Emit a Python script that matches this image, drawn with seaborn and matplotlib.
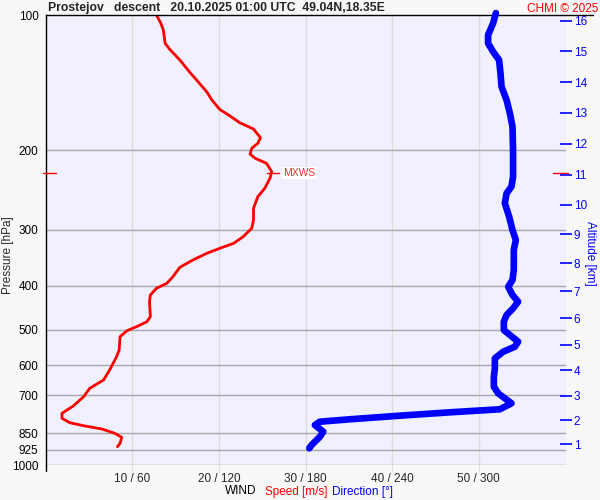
import numpy as np
import pandas as pd
import matplotlib
matplotlib.use("Agg")
import matplotlib.pyplot as plt
import seaborn as sns

# ---- data ----
speed_ms = [12.8, 13.3, 13.6, 13.8, 14.4, 15.5, 16.6, 17.6, 18.6, 19.2, 20.1, 21.3, 22.4, 24.0,
            24.8, 24.5, 23.8, 23.6, 24.2, 25.5, 26.1, 25.9, 25.3, 24.5, 24.0, 24.0, 23.8, 22.8,
            21.7, 20.1, 18.6, 17.0, 15.5, 14.7, 14.0, 12.8, 12.1, 12.0, 12.1, 11.7, 10.5, 9.4,
            8.6, 8.5, 8.2, 7.4, 6.7, 5.1, 4.4, 3.2, 1.9, 1.9, 2.8, 4.4, 6.5, 8.0, 8.8, 8.6, 8.3]
speed_p = [100, 104.3, 108, 115.6, 119.6, 125.9, 133.7, 140.7, 148.1, 154.5, 162.1, 167.7, 173.5,
           179.2, 187.4, 192.8, 197.8, 203.7, 208.2, 213.6, 222.9, 230.6, 242.7, 253.3, 268.9,
           285.4, 297.8, 311.0, 321.7, 330.0, 338.6, 350.4, 363.7, 381.6, 394.7, 404.9, 419.0,
           433.6, 468.1, 480.3, 492.8, 503.0, 518.7, 555.2, 574.6, 615.0, 647.3, 675.5, 705.1,
           739.5, 767.6, 787.5, 805.4, 818.0, 831.8, 850.4, 867.9, 895.0, 910.7]

direction_deg = [311.8, 309.9, 306.4, 306.4, 309.9, 314.0, 315.0, 315.7, 319.2, 321.5, 323.3, 323.7,
                 323.7, 322.6, 319.2, 318.0, 321.0, 323.3, 325.6, 324.2, 324.2, 323.3, 320.3,
                 323.3, 327.2, 323.7, 319.2, 317.3, 317.3, 321.5, 327.2, 324.9, 316.8, 311.1,
                 311.1, 310.4, 310.4, 313.4, 318.0, 322.6, 314.5, 280.0, 245.3, 210.6, 189.9,
                 186.5, 192.3, 190.0, 184.2, 182.6]
direction_p = [99, 104.3, 110.8, 115.6, 120.7, 125.9, 134.8, 144.3, 154.5, 165.4, 177.1, 199.5,
               228.7, 240.7, 249.0, 262.0, 280.6, 300.5, 316.2, 332.8, 368.6, 388.1, 401.6, 419.0,
               433.6, 448.6, 464.2, 480.3, 501.2, 514.2, 532.1, 546.0, 560.2, 579.5, 609.9, 636.7,
               669.9, 693.0, 710.9, 729.3, 752.0, 763.7, 777.0, 791.5, 801.3, 815.0, 843.3, 865.2,
               902.8, 918.1]

pressure_ticks = [100, 200, 300, 400, 500, 600, 700, 850, 925, 1000]
speed_ticks = [10, 20, 30, 40, 50]
speed_tick_labels = ["10 / 60", "20 / 120", "30 / 180", "40 / 240", "50 / 300"]
altitude_km = list(range(1, 17))
mxws_speed = 26.1
mxws_p = 224.8

title = "Prostejov   descent   20.10.2025 01:00 UTC  49.04N,18.35E"


def std_atm_pressure(h_km):
    h = h_km * 1000.0
    if h <= 11000:
        return 1013.25 * (1 - 2.25577e-5 * h) ** 5.25588
    return 226.32 * np.exp(-(h - 11000) / 6341.6)


sns.set_style("white")
plt.rcParams['font.family'] = ['Liberation Sans', 'DejaVu Sans']

fig = plt.figure(figsize=(6, 5), dpi=100, facecolor="#f8f8f8")
ax = fig.add_axes([45.5 / 600, 1 - 465 / 500, 520 / 600, 450 / 500])
ax.set_facecolor("#f0f0fe")

ax.set_yscale("log")
ax.set_ylim(1000, 100)
ax.set_xlim(0, 60)

# grid
for p in pressure_ticks[1:]:
    ax.axhline(p, color="#a8a8a8", lw=1.0, zorder=1)
for s in speed_ticks + [60]:
    ax.axvline(s, color="#dcdcdc", lw=1.0, zorder=0.5)

df_s = pd.DataFrame({"speed": speed_ms, "p": speed_p})
sns.lineplot(data=df_s, x="speed", y="p", sort=False, estimator=None, color="#ff0000",
             lw=2.0, ax=ax, zorder=4)

axd = ax.twiny()
axd.set_xlim(0, 360)
df_d = pd.DataFrame({"dir": direction_deg, "p": direction_p})
sns.lineplot(data=df_d, x="dir", y="p", sort=False, estimator=None, color="#0000ff",
             lw=4.8, ax=axd, zorder=3, solid_capstyle="round", solid_joinstyle="round")
for ln in axd.lines:
    ln.set_clip_on(False)
axd.set_xlim(0, 360)
axd.set_xticks([])
axd.set_xlabel("")
axd.set_ylabel("")
for sp in axd.spines.values():
    sp.set_visible(False)

ax.set_yticks(pressure_ticks)
ax.set_yticklabels([str(p) for p in pressure_ticks])
ax.yaxis.set_minor_locator(matplotlib.ticker.NullLocator())
ax.tick_params(axis="y", length=0, pad=5, labelsize=8.5, colors="black")
ax.set_xlabel("")
ax.set_ylabel("")

for side in ["right", "bottom", "top"]:
    ax.spines[side].set_visible(False)
ax.spines["left"].set_color("black")
ax.spines["left"].set_linewidth(1.0)
ax.plot([0, 63.2], [100, 100], color="black", lw=1.0, clip_on=False, zorder=6)
ax.plot([0, 0], [1000, 1030], color="black", lw=1.0, clip_on=False, zorder=6)

# right altitude axis
axr = ax.twinx()
axr.set_yscale("log")
axr.set_ylim(1000, 100)
axr.set_yticks([std_atm_pressure(h) for h in altitude_km])
axr.set_yticklabels([str(h) for h in altitude_km])
axr.yaxis.set_minor_locator(matplotlib.ticker.NullLocator())
axr.tick_params(axis="y", direction="inout", length=8, width=1.2, color="#0000ff",
                labelcolor="#0000ff", labelsize=8.5, pad=2)
for sp in axr.spines.values():
    sp.set_visible(False)

# x ticks on the main axis (set after twins)
ax.set_xlim(0, 60)
ax.set_xticks(speed_ticks)
ax.set_xticklabels(speed_tick_labels)
ax.tick_params(axis="x", bottom=True, length=5, color="#dcdcdc", pad=1, labelsize=8.5,
               labelbottom=True)

# MXWS markers
ax.plot([-0.3, 1.2], [mxws_p, mxws_p], color="#ff0000", lw=1.0, clip_on=False, zorder=6)
ax.plot([58.6, 60.3], [mxws_p, mxws_p], color="#ff0000", lw=1.0, clip_on=False, zorder=6)
ax.plot([mxws_speed - 0.6, mxws_speed + 0.8], [mxws_p, mxws_p], color="#ff0000", lw=1.0, zorder=6)
ax.text(mxws_speed + 1.3, mxws_p, "MXWS", color="#e83030", fontsize=7.5, va="center", ha="left",
        zorder=7, bbox=dict(boxstyle="square,pad=0.1", fc="white", ec="none"))

# texts
fig.text(48 / 600, 1 - 8.5 / 500, title, fontsize=8.8, fontweight="bold", va="center", ha="left")
fig.text(598 / 600, 1 - 8.5 / 500, "CHMI © 2025", fontsize=8.5, color="#ff0000", va="center", ha="right")
fig.text(8 / 600, 1 - 255 / 500, "Pressure [hPa]", rotation=90, fontsize=8.5, va="center", ha="center")
fig.text(590 / 600, 1 - 253 / 500, "Altitude [km]", rotation=270, fontsize=8.5, color="#0000ff",
         va="center", ha="center")
yb = 1 - 491.5 / 500
fig.text(225 / 600, yb, "WIND", fontsize=8.5, color="black", va="center", ha="left")
fig.text(265 / 600, yb, "Speed [m/s]", fontsize=8.5, color="#ff0000", va="center", ha="left")
fig.text(332 / 600, yb, "Direction [°]", fontsize=8.5, color="#0000ff", va="center", ha="left")

fig.savefig("out.png", dpi=100, facecolor=fig.get_facecolor())
